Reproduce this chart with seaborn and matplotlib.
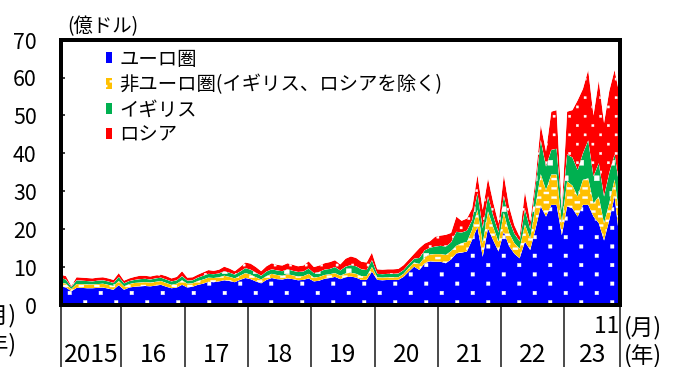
import numpy as np
import pandas as pd
import matplotlib
matplotlib.use("Agg")
import matplotlib.pyplot as plt
import matplotlib.hatch as mhatch
import matplotlib.patches as mpatches
from matplotlib.path import Path
import seaborn as sns
import seaborn.objects as so

# ---------------------------------------------------------------- data
# Monthly values, Jan 2015 - Nov 2023 (unit: 100 million USD)
regions = ["ユーロ圏", "非ユーロ圏(イギリス、ロシアを除く)", "イギリス", "ロシア"]
region_colors = ["#0000FF", "#FFC000", "#00B050", "#FF0000"]
region_textures = [".", "-", "O", "o"]

euro = [
    4.9, 4.6, 3.6, 4.5, 4.5, 4.4, 4.4, 4.5, 4.6, 4.3, 4.0, 5.2,
    4.0, 4.6, 4.8, 4.9, 5.0, 4.9, 5.1, 5.3, 4.8, 4.4, 4.6, 5.3,
    4.6, 4.8, 5.3, 5.6, 6.1, 6.0, 6.2, 6.5, 6.3, 6.0, 6.6, 7.1,
    6.8, 6.2, 5.7, 6.6, 7.1, 6.8, 6.7, 7.0, 6.8, 6.5, 6.6, 7.0,
    6.2, 6.4, 6.9, 7.1, 7.4, 6.8, 7.3, 7.5, 7.2, 6.6, 6.6, 8.8,
    6.6, 6.5, 6.6, 6.6, 6.6, 7.4, 8.8, 10.1, 9.2, 11.0, 11.5, 11.4,
    11.4, 11.0, 12.0, 13.6, 13.8, 14.1, 17.2, 20.5, 12.7, 20.2, 17.0, 14.1,
    19.3, 15.5, 13.5, 12.3, 16.7, 14.5, 20.0, 26.0, 23.3, 26.4, 26.4, 18.4,
    26.0, 25.5, 23.3, 26.4, 26.4, 23.3, 21.6, 17.0, 22.4, 28.6, 16.5,
]
non_euro = [
    1.0, 1.0, 0.6, 1.0, 1.0, 1.0, 1.0, 1.0, 1.0, 1.0, 1.0, 1.1,
    0.9, 0.9, 1.0, 1.0, 1.0, 1.0, 1.0, 1.0, 1.0, 0.9, 1.0, 1.2,
    1.0, 0.9, 1.0, 1.1, 1.1, 1.1, 1.1, 1.2, 1.1, 1.0, 1.1, 1.3,
    1.2, 1.1, 1.0, 1.0, 1.1, 1.1, 1.0, 1.1, 1.0, 1.0, 1.0, 1.2,
    1.0, 1.0, 1.0, 1.0, 1.0, 0.9, 1.0, 1.0, 1.0, 1.0, 1.0, 1.2,
    0.7, 0.7, 0.7, 0.7, 0.7, 0.8, 1.0, 1.1, 1.6, 1.6, 1.8, 2.0,
    2.0, 2.2, 2.2, 2.0, 2.5, 2.5, 2.7, 4.6, 3.5, 4.5, 3.5, 2.5,
    5.0, 3.5, 2.8, 2.5, 4.5, 3.0, 6.0, 8.5, 7.0, 8.0, 8.0, 3.1,
    6.6, 6.0, 5.3, 6.6, 7.0, 3.5, 7.0, 4.5, 4.5, 4.5, 6.0,
]
uk = [
    1.2, 1.1, 0.5, 1.0, 0.9, 0.9, 0.8, 0.9, 0.9, 0.9, 0.8, 1.1,
    0.8, 0.8, 0.8, 0.9, 0.9, 0.8, 0.9, 0.9, 0.9, 0.9, 0.9, 1.1,
    0.8, 0.8, 0.9, 1.0, 1.0, 1.0, 1.0, 1.2, 1.1, 1.0, 1.1, 1.3,
    1.3, 1.2, 1.0, 1.2, 1.2, 1.2, 1.2, 1.3, 1.2, 1.2, 1.2, 1.4,
    1.2, 1.3, 1.4, 1.4, 1.6, 1.4, 1.8, 2.0, 2.0, 1.8, 1.6, 1.8,
    0.9, 0.9, 0.9, 0.9, 1.0, 1.0, 1.0, 1.0, 1.6, 1.8, 1.8, 2.0,
    2.2, 2.2, 2.3, 3.7, 2.8, 3.0, 2.5, 4.4, 4.0, 4.0, 3.0, 2.5,
    4.5, 3.5, 2.5, 2.0, 4.0, 2.5, 5.0, 9.0, 6.2, 6.5, 6.8, 3.5,
    7.1, 7.4, 7.0, 7.0, 10.0, 7.1, 8.8, 7.1, 8.0, 6.6, 8.0,
]
russia = [
    0.9, 0.9, 0.3, 0.8, 0.8, 0.8, 0.8, 0.8, 0.8, 0.8, 0.8, 1.0,
    0.7, 0.7, 0.8, 0.9, 0.8, 0.8, 0.8, 0.8, 0.9, 0.8, 0.9, 1.3,
    0.8, 0.8, 0.8, 0.9, 1.0, 0.9, 1.0, 1.2, 1.1, 0.9, 1.2, 1.5,
    1.6, 1.5, 1.2, 1.4, 1.6, 1.5, 1.5, 1.6, 1.6, 1.5, 1.6, 1.9,
    1.6, 1.7, 1.7, 1.8, 1.8, 1.6, 2.1, 2.3, 2.2, 2.0, 2.0, 2.0,
    1.2, 1.2, 1.2, 1.2, 1.2, 1.3, 1.2, 1.3, 2.6, 1.8, 1.7, 2.6,
    2.7, 3.1, 2.5, 4.0, 3.1, 3.2, 3.1, 4.8, 4.9, 4.7, 3.5, 2.4,
    5.5, 3.5, 2.2, 1.2, 4.7, 2.0, 2.0, 4.0, 4.0, 10.1, 10.2, 0.5,
    11.3, 12.5, 18.4, 17.0, 18.6, 16.1, 21.8, 19.4, 21.6, 22.3, 24.5,
]

year_labels = ["2015", "16", "17", "18", "19", "20", "21", "22", "23"]
last_month_label = "11"

# ---------------------------------------------------------------- canvas
DPI = 93
W, H = 675, 367
FONT = ["Noto Sans CJK JP", "DejaVu Sans"]


def px(v):
    """pixels -> points at the figure dpi"""
    return v * 72.0 / DPI


# Fill textures: staggered lattices of small white blocks (tile = DPI px).
def make_texture(symbol, ncols, nrows, w_px, h_px):
    class LatticeTexture(mhatch.HatchPatternBase):
        def __init__(self, hatch, density):
            self.num_vertices = 5 * ncols * nrows if symbol in hatch else 0

        def set_vertices_and_codes(self, vertices, codes):
            hw, hh = w_px / DPI / 2, h_px / DPI / 2
            k = 0
            for r in range(nrows):
                cy = (r + 0.5) / nrows
                for c in range(ncols):
                    cx = (c + 0.25 + 0.5 * (r % 2)) / ncols
                    vertices[k:k + 5] = [(cx - hw, cy - hh), (cx + hw, cy - hh),
                                         (cx + hw, cy + hh), (cx - hw, cy + hh),
                                         (cx - hw, cy - hh)]
                    codes[k:k + 5] = [Path.MOVETO, Path.LINETO, Path.LINETO,
                                      Path.LINETO, Path.CLOSEPOLY]
                    k += 5
    return LatticeTexture


mhatch._hatch_types = [
    make_texture(".", 3, 10, 3.5, 3.5),   # euro area: dots
    make_texture("-", 6, 20, 5.0, 2.0),   # other non-euro: dashes
    make_texture("O", 3, 6, 5.0, 5.0),    # UK: sparse blocks
    make_texture("o", 6, 10, 2.2, 2.2),   # Russia: fine dots
]

sns.set_theme(style="white")
rc = {
    "font.family": FONT,
    "hatch.color": "white",
    "hatch.linewidth": 0.3,
    "axes.edgecolor": "black",
    "axes.facecolor": "white",
    "axes.grid": False,
    "text.color": "black",
    "xtick.color": "black",
    "ytick.color": "black",
}
plt.rcParams.update(rc)

fig = plt.figure(figsize=((W + 0.4) / DPI, (H + 0.4) / DPI), dpi=DPI)
ax_left, ax_right, ax_top, ax_bottom = 60.7, 619.5, 40.0, 305.0
ax = fig.add_axes([ax_left / W, 1 - ax_bottom / H,
                   (ax_right - ax_left) / W, (ax_bottom - ax_top) / H])

# ---------------------------------------------------------------- areas
months = np.arange(len(euro))
series = [euro, non_euro, uk, russia]
df = pd.concat(
    [pd.DataFrame({"month": months, "value": vals, "region": name})
     for name, vals in zip(regions, series)],
    ignore_index=True,
)

(
    so.Plot(df, x="month", y="value", color="region")
    .add(so.Area(alpha=1, edgewidth=0), so.Stack(), legend=False)
    .scale(color=dict(zip(regions, region_colors)))
    .theme({**sns.axes_style("white"), **rc})
    .label(x="", y="")
    .on(ax)
    .plot()
)

color_to_texture = {matplotlib.colors.to_hex(c): t
                    for c, t in zip(region_colors, region_textures)}
for patch in ax.patches:
    tex = color_to_texture.get(matplotlib.colors.to_hex(patch.get_facecolor()))
    if tex is not None:
        patch.set_hatch(tex)
        patch.set_edgecolor("white")   # hatch colour; edge width stays 0
        patch.set_linewidth(0)

# ---------------------------------------------------------------- axes
n = len(euro)
ax.set_xlim(0, n - 1)
ax.set_ylim(0, 70)
ax.set_xlabel("")
ax.set_ylabel("")

yt = np.arange(0, 71, 10)
ax.set_yticks(yt, labels=[str(v) for v in yt])
ax.tick_params(axis="y", which="major", left=True, direction="in",
               length=px(4), width=px(1.5), pad=px(24),
               labelsize=16.5, labelfontfamily=FONT, labelcolor="black")

bounds = [0] + [12 * k - 0.5 for k in range(1, len(year_labels))] + [n - 1]
centers = [(bounds[k] + bounds[k + 1]) / 2 for k in range(len(year_labels))]
ax.set_xticks(centers, labels=year_labels)
ax.set_xticks(bounds, minor=True)
ax.tick_params(axis="x", which="major", bottom=True, length=0, pad=px(37),
               labelsize=19, labelfontfamily=FONT, labelcolor="black")
ax.tick_params(axis="x", which="minor", bottom=True, direction="out",
               length=px(63), width=px(1.6), color="#222222")

for side in ["left", "right", "top", "bottom"]:
    ax.spines[side].set_visible(True)
    ax.spines[side].set_color("black")
    ax.spines[side].set_linewidth(px(4))

# ---------------------------------------------------------------- legend
handles = [mpatches.Patch(facecolor=c, hatch=t, edgecolor="white", linewidth=0)
           for c, t in zip(region_colors, region_textures)]
leg = ax.legend(handles, regions, loc="upper left",
                bbox_to_anchor=((106 - ax_left) / (ax_right - ax_left),
                                (ax_bottom - 49) / (ax_bottom - ax_top)),
                frameon=False, prop={"family": FONT, "size": 15},
                handlelength=0.3, handleheight=0.5, handletextpad=0.4,
                labelspacing=0.22, borderpad=0, borderaxespad=0)

# ---------------------------------------------------------------- texts


def fig_text(x, y_base, s, ha="left", size=14.3):
    fig.text(x / W, 1 - y_base / H, s, ha=ha, va="baseline",
             fontsize=size, family=FONT, color="black")


fig_text(67, 32, "(億ドル)", size=15)
fig_text(619, 333, last_month_label, ha="right", size=17.5)
fig_text(624, 334, "(月)", size=17.5)
fig_text(624, 362, "(年)", size=17.5)
fig_text(17, 322, "(月)", ha="right", size=17.5)
fig_text(17, 351, "(年)", ha="right", size=17.5)

fig.savefig("out.png", dpi=DPI, facecolor="white")
